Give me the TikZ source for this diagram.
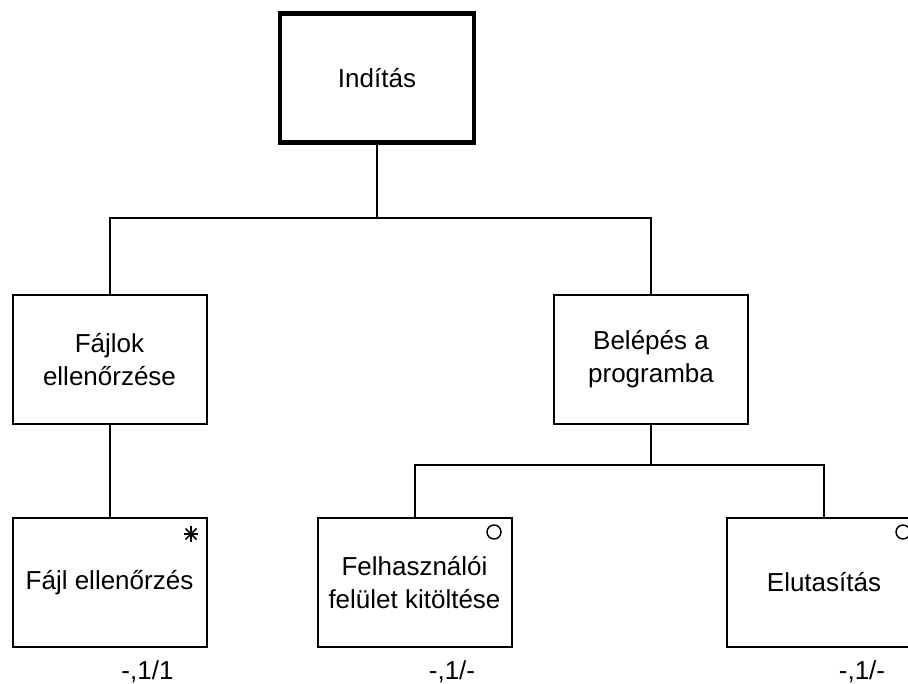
\documentclass[tikz,border=0pt]{standalone}
\usepackage{fontspec}
\setmainfont{Liberation Sans}
\begin{document}
\begin{tikzpicture}[x=0.75pt,y=-0.75pt,
  box/.style={draw,line width=1.5pt,minimum width=145.5pt,minimum height=96.75pt,
    inner sep=0pt,align=center,font=\fontsize{19.5}{24.75}\selectfont},
  rootbox/.style={box,line width=3.3pt},
  link/.style={line width=1.5pt},
  ring/.style={draw,circle,line width=1.1pt,minimum size=10.5pt,inner sep=0pt},
  ray/.style={line width=1.2pt},
  tag/.style={anchor=base,inner sep=0pt,font=\fontsize{19.5}{24.75}\selectfont}]

\useasboundingbox (0,0) rectangle (908,684);
\clip (0,0) rectangle (908,684);

% boxes
\node[rootbox] (root)   at (377,78)    {Indítás};
\node[box]     (files)  at (109.5,359.5) {Fájlok\\ellenőrzése};
\node[box]     (login)  at (651,359.5) {Belépés a\\programba};
\node[box]     (check)  at (109.5,582.5) {Fájl ellenőrzés};
\node[box]     (form)   at (414.5,582.5) {Felhasználói\\felület kitöltése};
\node[box]     (reject) at (824,582.5) {Elutasítás};

% junctions of the tree
\coordinate (j1) at (377,218);
\coordinate (j2) at (651,465);

% connectors
\draw[link] (root.south) -- (j1);
\draw[link] (files.north) |- (j1) -| (login.north);
\draw[link] (files.south) -- (check.north);
\draw[link] (login.south) -- (j2);
\draw[link] (form.north) |- (j2) -| (reject.north);

% corner markers
\node[inner sep=0pt,minimum size=1pt] (star) at (191,534) {};
\draw[ray] ([shift={(-7,0)}]star.center) -- ([shift={(7,0)}]star.center);
\draw[ray] ([shift={(0,-8)}]star.center) -- ([shift={(0,8)}]star.center);
\draw[ray] ([shift={(-5.5,-5.5)}]star.center) -- ([shift={(5.5,5.5)}]star.center);
\draw[ray] ([shift={(-5.5,5.5)}]star.center) -- ([shift={(5.5,-5.5)}]star.center);
\fill (star.center) circle (2.5);
\node[ring] (o1) at (494,532) {};
\node[ring] (o2) at (903,532) {};

% cardinality labels
\node[tag] (l1) at (147.5,679) {-,1/1};
\node[tag] (l2) at (452,679) {-,1/-};
\node[tag] (l3) at (862,679) {-,1/-};
\end{tikzpicture}
\end{document}
